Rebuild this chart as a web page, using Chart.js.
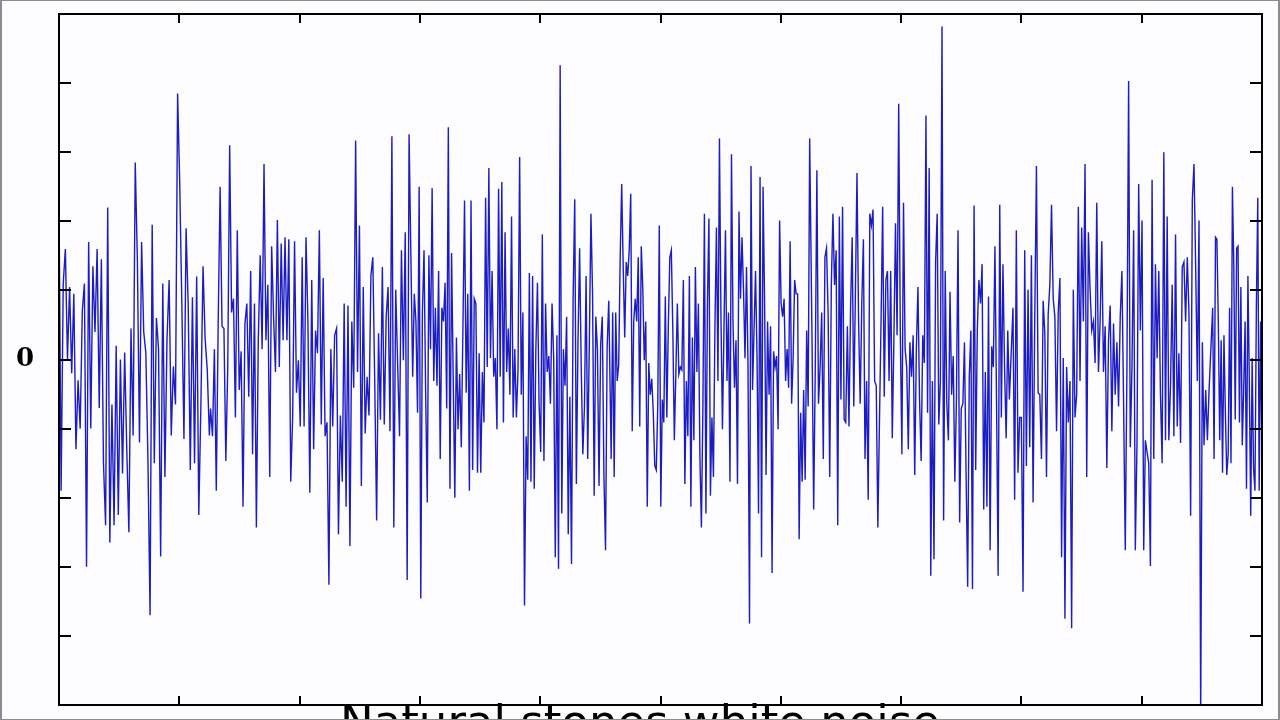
<!DOCTYPE html>
<html>
<head>
<meta charset="utf-8">
<script src="https://cdn.jsdelivr.net/npm/chart.js@4/dist/chart.umd.min.js"></script>
<style>
  html, body { margin: 0; padding: 0; background: #fff; overflow: hidden; }
  #wrap { position: relative; width: 1280px; height: 720px; overflow: hidden; background: #fdfcfe; }
  #frame { position: absolute; left: 0; top: 0; width: 1280px; height: 720px; box-sizing: border-box;
           border: 1px solid #8c8c8c; border-left-width: 2px; border-right-width: 2px; pointer-events: none; }
  #caption { position: absolute; left: 0; width: 1280px; top: 699px; text-align: center;
             font: 45px "DejaVu Sans", sans-serif; line-height: 1; color: #000; white-space: nowrap; }
</style>
</head>
<body>
<div id="wrap">
  <canvas id="noiseChart" width="1280" height="720"></canvas>
  <div id="caption">Natural stones white noise</div>
  <div id="frame"></div>
</div>
<script>
// noise values, one array per stretch of the time axis
const noiseA = [2.3, -1.9, 1.1, 1.6, 0, 1.05, -0.2, 0.95, -1.3, -0.3,
  -1.0, 0.7, 1.1, -3.0, 1.7, -1.0, 1.35, 0.4, 1.6, -0.7,
  1.45, -1.5, -2.4, 2.2, -2.65, -0.65, -2.4, 0.2, -2.25, 0,
  -1.65, 0.1, -1.3, -2.5, 0.45, -1.1, 2.85, 1.45, -1.2, 1.7,
  0.4, 0.1, -1.45, -3.7, 1.95, -1.5, 0.6, 0.15, -2.85, 1.1,
  -1.7, 0.3, 1.15, -1.1, -0.1, -0.65, 3.85, 2.55, 0.8, -1.15,
  1.9, 0.8, -1.6, 0.9, -1.5, 1.2, -2.25, -0.65, 1.35, 0.3,
  -0.15, -1.1];
const noiseB = [-0.71, -1.11, 0.15, -1.9, 0.55, 2.5, 0.48, 0.45, -1.47, -0.11,
  3.1, 0.68, 0.88, -0.84, 1.87, -0.44, 0.12, -2.13, 0.52, 0.81,
  -0.54, 1.28, -1.37, 0.81, -2.43, 0.28, 1.51, 0.15, 2.83, 0.28,
  1.08, -1.7, 1.64, 0.62, -0.18, 2.02, -0.11, 1.68, 0.28, 1.77,
  0.28, 1.74, -1.77, -0.84, 1.71, -0.48, -0.01, -0.97, 1.48, -0.97,
  1.77, 0.55, -1.93, 1.15, -1.3, 0.42, 0.09, 1.87, -0.94, 1.18,
  -1.11, -0.91, -3.26, 0.15, -0.97, 0.35, 0.45, -2.53, -0.81, -1.77,
  0.81, -2.13, 0.78, -2.7, 0.55, -0.41, 3.17, -0.18, 1.94, -1.83,
  1.05, -1.07, -0.25, -0.81, 1.21, 1.48, -0.31, -2.33, 0.38, -0.87,
  1.34, -0.94, 0.62, 1.05, -1.04, 3.23, -2.43, 1.01, -0.05, -1.11,
  1.58, -0.01, 1.84, -3.19, 3.26];
const noiseC = [-0.25, 0.95, 0.55, -0.77, 2.5, -3.46, 0.68, 1.58, -0.48, -2.07,
  1.51, 0.15, 2.48, -0.31, 0.75, -0.38, 1.28, -1.44, 0.75, 0.55,
  1.11, -0.71, 3.36, -1.87, 1.54, -0.25, -2.0, 0.32, -1.01, -0.21,
  -1.27, 0.45, 2.3, -0.48, 0.95, -1.9, 2.3, -1.6, 0.88, 0.81,
  -1.64, 0.09, -1.64, -0.18, -0.91, 2.34, -0.11, 2.77, 0.02, 1.28,
  -0.25, 0.02, -1.01, 2.47, -0.25, 2.57, -0.91, 1.84, -0.18, 0.45,
  -0.51, 2.07, -0.84, 0.15, -0.84, -0.15, 2.93, -0.51, 0.68, -3.56,
  -1.11, -1.74, 1.25, -1.77, 1.21, -1.87, 0.15, 1.11, -0.64, -1.34,
  1.81, -1.47, 0.81, -0.18, 0.05, -0.64, 0.81, 0.02, -2.86, 0.35,
  -3.03, 4.26, -2.23, 0.15, -0.38, 0.62, -2.53, -0.54, -2.96, 0.88,
  2.32, -1.8, 0.25, 1.61, -0.11, -1.37, -0.68, 1.21, -1.44, 0.22,
  2.11, 0.95, -1.97, 0.62, 0.15, -1.83, 0.22, 0.62, -1.67, -2.76,
  0.19, 0.85];
const noiseD = [-1.44, 0.68, -1.7, 0.68, -0.31, -0.08, 1.48, 2.54, 1.34, 0.32,
  1.41, 1.21, 1.58, 2.4, -1.04, 0.55, 0.88, 0.55, 1.48, -0.97,
  1.64, 1.05, -0.01, 0.55, -2.13, -0.05, -0.51, -0.28, -0.77, -1.54,
  -1.6, -0.64, 1.94, -2.13, -0.58, -0.91, 0.91, -0.84, 0.48, 1.48,
  1.58, 0.42, -1.17, -0.21, 0.81, -0.21, -0.11, -0.15, 1.15, -1.8,
  -0.31, -1.11, 1.21, -2.13, 0.32, -1.17, 1.34, -0.18, 0.81, -1.4,
  -2.43, -0.68, 2.11, -2.23, 0.78, 2.04, -1.97, -0.84, -1.7, 0.48,
  1.91, -0.31, 3.2, 0.62, -1.01, 0.42, 1.87, -0.31, 0.68, -1.77,
  2.97, 0.55, -0.41, 0.28, -1.8, 2.14, 0.88, 1.77, 1.01, 0.02,
  1.34, -0.11, -3.82, 2.8, -0.44, 0.42, 1.28, 0.02, -2.23, 2.64,
  -2.86, 2.5, 0.88, -1.67, 0.55, -0.51, 0.48, -3.09, 0.12, -0.11,
  0.05, -1.01, 2.01, 0.81, 0.62, 0.88, -0.31, 0.15, -0.41, 1.71,
  -0.64, 0.02, 1.15, 0.95, 0.95, -2.6, -0.77, -1.77, -0.44, -1.74,
  0.42, -0.68, 3.2];
const noiseE = [0.22, -2.17, -0.11, 2.74, -0.64, -0.11, 0.68, -1.44, 1.48, 1.61,
  0.68, -1.7, 1.08, 2.11, 1.08, 1.58, -2.4, 2.07, -0.58, 2.21,
  -0.87, -0.91, 0.48, -0.97, 0.75, 1.77, -0.68, 0.95, 2.7, 0.55,
  -0.64, 0.81, 1.74, -1.44, -0.31, -2.03, 2.11, 1.94, 2.17, -0.31,
  -0.38, -2.43, -0.91, 0.55, 2.21, -0.54, 1.15, 1.28, -0.31, 1.28,
  -1.14, 0.28, 1.97, 0.35, 3.7, 0.42, -1.37, 2.27, 0.15, -0.11,
  -1.3, 0.25, -0.25, 0.35, -1.67, 0.15, 1.05, -0.58, -1.47, 0.35,
  -0.05, 3.53, -0.77, 2.77, -3.13, -0.31, -2.89, 1.41, 2.11, -0.94,
  -0.31, 4.82, -2.33, 1.28, -0.64, -1.17, 0.98, -0.51, 0.05, -1.77,
  -0.58, 1.87, -2.36, -0.71, -0.64, 0.25, -1.64, -3.29, -0.25, 0.42,
  -3.32, 2.23, -1.6, 0.42, 1.15, 0.81, 1.38, -2.17, -0.18, -2.13,
  0.91, -2.76, 0.19, -0.11, 1.64, -0.61, -3.13, 2.24, -0.84, 1.38,
  -0.11, -1.14, 0.42, -0.58];
const noiseF = [0.75, -2.03, 1.87, -1.64, -0.84, -0.84, -3.36, 1.58, -1.54, 1.01,
  -1.27, 1.51, -2.07, 0.62, 2.8, -0.48, -0.51, -1.44, 0.85, 0.38,
  -1.7, 0.65, 1.08, 2.24, 0.88, 0.62, -1.04, 0.68, 1.18, -2.86,
  0.02, -3.75, -0.11, -0.91, -0.31, -3.89, 1.01, -0.84, -0.51, 2.21,
  -0.31, 1.91, 0.55, 2.83, -1.7, 1.84, 1.01, 0.42, 0.55, -0.05,
  2.27, -0.18, 0.55, 1.71, -0.18, 0.48, -1.57, 0.28, 0.78, -1.04,
  0.52, -0.51, 0.25, -0.68, 0.62, 1.28, -0.64, -2.76, -0.11, 4.03,
  -1.27, -0.11, 1.87, -2.76, -1.21, 2.54, 0.42, 2.01, -2.76, -1.17,
  -1.34, -1.5, -2.99, 2.6, -1.44, 1.38, 0.02, 1.28, -0.51, -1.5,
  3.0, -1.17, 2.07, -1.17, -0.38, 1.08, -1.11, 1.81, -0.97, 0.09,
  -1.21, 1.34, 1.41, 0.55, 1.48, 0.68, -2.26, 2.3, 2.83, 1.34,
  -0.31, 2.01, -5.2, 0.25, -1.24, -0.44, -1.17, -0.44];
const noiseG = [0.75, -1.44, 1.77, 1.74, 0.55, -1.17, 0.28, -1.64, 0.35, -0.77,
  -1.67, -1.37, 0.75, -1.5, 2.5, 1.34, -0.87, 1.61, 1.64, -0.91,
  1.05, -1.24, -0.44, 0.55, -1.87, 1.21, -0.31, -2.26, 0.02, -1.57,
  -1.9, 0.75, 2.34, -1.9, 0.55, -1.44];

// time span (0..1000) covered by each stretch
const stretchStart = [0, 126, 294, 459, 626, 793, 959];
const stretchEnd = [125, 291, 457, 624, 790, 956, 1000];
const stretches = [noiseA, noiseB, noiseC, noiseD, noiseE, noiseF, noiseG];

const yTicks = [-5, -4, -3, -2, -1, 0, 1, 2, 3, 4, 5];

const points = [];
stretches.forEach((vals, s) => {
    const t0 = stretchStart[s], t1 = stretchEnd[s];
    vals.forEach((v, i) => {
        points.push({ x: t0 + (t1 - t0) * i / (vals.length - 1), y: v });
    });
});

// frame and inward tick marks like the original plot
const framePlugin = {
    id: 'framePlugin',
    afterDatasetsDraw(chart) {
        const { ctx, chartArea: a, scales } = chart;
        ctx.save();
        ctx.strokeStyle = '#000';
        ctx.lineWidth = 2;
        ctx.beginPath();
        scales.y.ticks.forEach(t => {
            if (t.value <= -5 || t.value >= 5) return;
            const py = Math.round(scales.y.getPixelForValue(t.value));
            ctx.moveTo(a.left, py); ctx.lineTo(a.left + 12, py);
            ctx.moveTo(a.right, py); ctx.lineTo(a.right - 12, py);
        });
        scales.x.ticks.forEach(t => {
            if (t.value <= 0 || t.value >= 1000) return;
            const px = Math.round(scales.x.getPixelForValue(t.value));
            ctx.moveTo(px, a.bottom); ctx.lineTo(px, a.bottom - 9);
            ctx.moveTo(px, a.top); ctx.lineTo(px, a.top + 9);
        });
        ctx.stroke();
        ctx.strokeRect(a.left, a.top, a.right - a.left, a.bottom - a.top);
        ctx.restore();
    }
};

function noPadding(scale) {
    scale.paddingTop = 0;
    scale.paddingBottom = 0;
    scale.paddingLeft = 0;
    scale.paddingRight = 0;
}

const chart = new Chart(document.getElementById('noiseChart').getContext('2d'), {
    type: 'line',
    data: {
        datasets: [{
            data: points,
            borderColor: 'rgb(28, 28, 195)',
            borderWidth: 1.4,
            pointRadius: 0,
            tension: 0,
            fill: false
        }]
    },
    options: {
        responsive: false,
        animation: false,
        layout: { padding: { top: 14, right: 18, left: 0, bottom: 0 } },
        plugins: { legend: { display: false }, tooltip: { enabled: false } },
        scales: {
            x: {
                type: 'linear',
                min: 0,
                max: 1000,
                ticks: { display: false, stepSize: 100 },
                grid: { display: false, drawTicks: false },
                border: { display: false },
                afterFit(scale) { scale.height = 15; noPadding(scale); }
            },
            y: {
                type: 'linear',
                min: yTicks[0],
                max: yTicks[yTicks.length - 1],
                afterBuildTicks(scale) { scale.ticks = yTicks.map(v => ({ value: v })); },
                ticks: {
                    padding: 25,
                    color: '#000',
                    font: { family: '"DejaVu Serif", serif', size: 26, weight: 'bold' },
                    callback: v => (v === 0 ? '0' : '')
                },
                grid: { display: false, drawTicks: false },
                border: { display: false },
                afterFit(scale) { scale.width = 59; noPadding(scale); }
            }
        }
    },
    plugins: [framePlugin]
});
</script>
</body>
</html>
